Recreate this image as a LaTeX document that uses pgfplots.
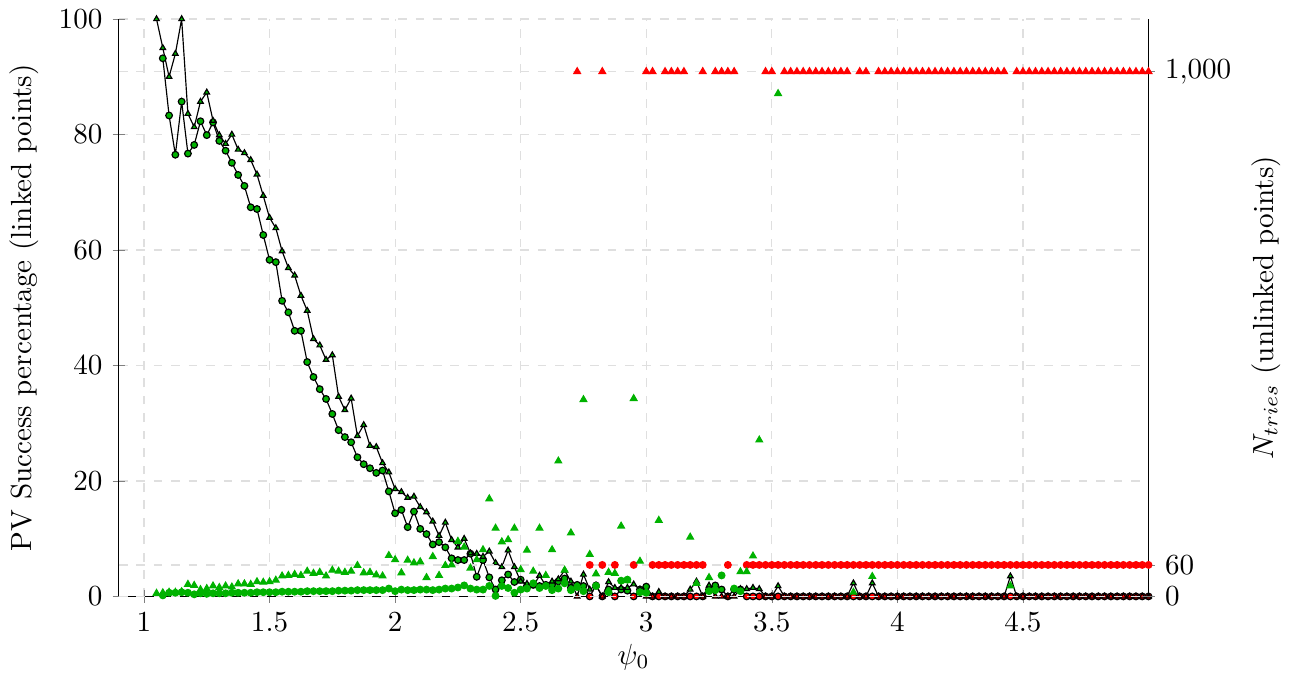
\documentclass[border=0pt]{standalone}
\usepackage{pgfplots}
\usepackage{pgfplotstable}
\pgfplotsset{compat=1.18}
\definecolor{mygreen}{RGB}{0,178,0}

\pgfplotstableread{
x T tc C cc NT ntc NC ncc
1.050 100 g nan g 6 g nan g
1.075 95 g 93.2 g 7 g 2 g
1.100 90 g 83.3 g 8 g 7 g
1.125 94 g 76.5 g 8 g 7 g
1.150 100 g 85.7 g 9 g 8 g
1.175 83.6 g 76.7 g 23 g 7 g
1.200 81.3 g 78.2 g 21 g 4 g
1.225 85.7 g 82.3 g 13 g 6 g
1.250 87.3 g 79.9 g 15 g 5 g
1.275 82.4 g 82.1 g 20 g 6 g
1.300 79.9 g 78.9 g 17 g 6 g
1.325 78.4 g 77.2 g 20 g 6 g
1.350 80.0 g 75.1 g 18 g 7 g
1.375 77.4 g 73.0 g 24 g 7 g
1.400 76.8 g 71.1 g 24 g 7 g
1.425 75.6 g 67.4 g 23 g 7 g
1.450 73.1 g 67.1 g 28 g 8 g
1.475 69.4 g 62.6 g 27 g 8 g
1.500 65.6 g 58.3 g 28 g 8 g
1.525 63.8 g 57.9 g 31 g 8 g
1.550 59.8 g 51.2 g 39 g 9 g
1.575 56.9 g 49.2 g 40 g 9 g
1.600 55.6 g 46.0 g 42 g 9 g
1.625 52.1 g 46.0 g 40 g 9 g
1.650 49.5 g 40.6 g 48 g 10 g
1.675 44.6 g 38.0 g 44 g 10 g
1.700 43.5 g 35.9 g 46 g 10 g
1.725 41.0 g 34.2 g 39 g 10 g
1.750 41.8 g 31.6 g 50 g 10 g
1.775 34.6 g 28.8 g 48 g 11 g
1.800 32.3 g 27.6 g 46 g 11 g
1.825 34.3 g 26.7 g 48 g 11 g
1.850 27.8 g 24.1 g 59 g 12 g
1.875 29.7 g 22.9 g 45 g 12 g
1.900 26.1 g 22.2 g 46 g 12 g
1.925 25.9 g 21.4 g 41 g 12 g
1.950 23.1 g 21.8 g 39 g 12 g
1.975 21.5 g 18.2 g 78 g 15 g
2.000 18.6 g 14.4 g 70 g 10 g
2.025 18.1 g 15.0 g 45 g 13 g
2.050 17.1 g 12.0 g 69 g 12 g
2.075 17.3 g 14.7 g 64 g 12 g
2.100 15.5 g 11.7 g 66 g 13 g
2.125 14.6 g 10.8 g 36 g 13 g
2.150 13.0 g 9.0 g 76 g 12 g
2.175 10.5 g 9.4 g 40 g 13 g
2.200 12.8 g 8.5 g 59 g 15 g
2.225 9.8 g 6.6 g 60 g 15 g
2.250 8.5 g 6.3 g 105 g 17 g
2.275 10.0 g 6.3 g 94 g 21 g
2.300 7.5 g 7.4 g 54 g 15 g
2.325 7.4 g 3.4 g 70 g 13 g
2.350 6.9 g 6.3 g 89 g 13 g
2.375 7.8 g 3.3 g 186 g 20 g
2.400 5.8 g 1.2 g 130 g 1 g
2.425 5.1 g 2.8 g 104 g 20 g
2.450 8.0 g 3.8 g 108 g 16 g
2.475 5.1 g 2.5 g 130 g 7 g
2.500 2.6 g 2.9 g 51 g 13 g
2.525 2.2 g 1.8 g 88 g 15 g
2.550 1.8 g 2.0 g 48 g 25 g
2.575 3.6 g 1.8 g 130 g 16 g
2.600 1.9 g 2.0 g 40 g 20 g
2.625 2.6 g 2.0 g 89 g 12 g
2.650 3.0 g 2.6 g 258 g 15 g
2.675 4.5 g 3.1 g 50 g 25 g
2.700 2.6 g 1.5 g 121 g 12 g
2.725 0 r 2.0 g 1000 r 18 g
2.750 3.8 g 1.8 g 375 g 10 g
2.775 1.2 g 0 r 80 g 60 r
2.800 1.9 g 1.9 g 43 g 20 g
2.825 0 r 0 r 1000 r 60 r
2.850 2.5 g 1.2 g 46 g 8 g
2.875 1.5 g 0 r 44 g 60 r
2.900 1.5 g 1.2 g 134 g 30 g
2.925 1.5 g 1.0 g 30 g 32 g
2.950 2.1 g 0 r 377 g 60 r
2.975 1.2 g 1.2 g 67 g 8 g
3.000 0 r 1.7 g 1000 r 7 g
3.025 0 r 0 r 1000 r 60 r
3.050 0.8 g 0 r 145 g 60 r
3.075 0 r 0 r 1000 r 60 r
3.100 0 r 0 r 1000 r 60 r
3.125 0 r 0 r 1000 r 60 r
3.150 0 r 0 r 1000 r 60 r
3.175 1.2 g 0 r 113 g 60 r
3.200 2.6 g 0 r 25 g 60 r
3.225 0 r 0 r 1000 r 60 r
3.250 1.9 g 1.2 g 36 g 10 g
3.275 0 r 1.9 g 1000 r 12 g
3.300 0 r 1.2 g 1000 r 40 g
3.325 0 r 0 r 1000 r 60 r
3.350 0 r 1.2 g 1000 r 15 g
3.375 1.3 g 1.2 g 47 g 10 g
3.400 1.3 g 0 r 47 g 60 r
3.425 1.5 g 0 r 77 g 60 r
3.450 1.3 g 0 r 298 g 60 r
3.475 0 r 0 r 1000 r 60 r
3.500 0 r 0 r 1000 r 60 r
3.525 1.8 g 0 r 958 g 60 r
3.550 0 r 0 r 1000 r 60 r
3.575 0 r 0 r 1000 r 60 r
3.600 0 r 0 r 1000 r 60 r
3.625 0 r 0 r 1000 r 60 r
3.650 0 r 0 r 1000 r 60 r
3.675 0 r 0 r 1000 r 60 r
3.700 0 r 0 r 1000 r 60 r
3.725 0 r 0 r 1000 r 60 r
3.750 0 r 0 r 1000 r 60 r
3.775 0 r 0 r 1000 r 60 r
3.800 0 r 0 r 1000 r 60 r
3.825 2.3 g 0 r 8 g 60 r
3.850 0 r 0 r 1000 r 60 r
3.875 0 r 0 r 1000 r 60 r
3.900 2.3 g 0 r 38 g 60 r
3.925 0 r 0 r 1000 r 60 r
3.950 0 r 0 r 1000 r 60 r
3.975 0 r 0 r 1000 r 60 r
4.000 0 r 0 r 1000 r 60 r
4.025 0 r 0 r 1000 r 60 r
4.050 0 r 0 r 1000 r 60 r
4.075 0 r 0 r 1000 r 60 r
4.100 0 r 0 r 1000 r 60 r
4.125 0 r 0 r 1000 r 60 r
4.150 0 r 0 r 1000 r 60 r
4.175 0 r 0 r 1000 r 60 r
4.200 0 r 0 r 1000 r 60 r
4.225 0 r 0 r 1000 r 60 r
4.250 0 r 0 r 1000 r 60 r
4.275 0 r 0 r 1000 r 60 r
4.300 0 r 0 r 1000 r 60 r
4.325 0 r 0 r 1000 r 60 r
4.350 0 r 0 r 1000 r 60 r
4.375 0 r 0 r 1000 r 60 r
4.400 0 r 0 r 1000 r 60 r
4.425 0 r 0 r 1000 r 60 r
4.450 3.5 g 0 r 20 g 60 r
4.475 0 r 0 r 1000 r 60 r
4.500 0 r 0 r 1000 r 60 r
4.525 0 r 0 r 1000 r 60 r
4.550 0 r 0 r 1000 r 60 r
4.575 0 r 0 r 1000 r 60 r
4.600 0 r 0 r 1000 r 60 r
4.625 0 r 0 r 1000 r 60 r
4.650 0 r 0 r 1000 r 60 r
4.675 0 r 0 r 1000 r 60 r
4.700 0 r 0 r 1000 r 60 r
4.725 0 r 0 r 1000 r 60 r
4.750 0 r 0 r 1000 r 60 r
4.775 0 r 0 r 1000 r 60 r
4.800 0 r 0 r 1000 r 60 r
4.825 0 r 0 r 1000 r 60 r
4.850 0 r 0 r 1000 r 60 r
4.875 0 r 0 r 1000 r 60 r
4.900 0 r 0 r 1000 r 60 r
4.925 0 r 0 r 1000 r 60 r
4.950 0 r 0 r 1000 r 60 r
4.975 0 r 0 r 1000 r 60 r
5.000 0 r 0 r 1000 r 60 r
}\data

\begin{document}
\begin{tikzpicture}
\begin{axis}[
  scale only axis, width=354pt, height=198.5pt,
  xmin=0.9, xmax=5, ymin=0, ymax=100,
  axis y line*=left, axis x line*=bottom,
  x axis line style={-},
  xtick={1,1.5,2,2.5,3,3.5,4,4.5},
  ytick={0,20,40,60,80,100},
  grid=major, grid style={dashed, gray!25},
  tick align=center,
  xlabel={$\psi_0$},
  xlabel style={yshift=2.5pt},
  ylabel={PV Success percentage (linked points)},
  clip=false,
]
\addplot[black, mark=*, mark size=1.15pt, scatter, scatter src=explicit symbolic,
  scatter/classes={g={mark=*, draw=black, fill=mygreen}, r={mark=*, draw=black, fill=red}}]
  table[x=x, y=C, meta=cc] {\data};
\addplot[black, mark=triangle*, mark size=1.1pt, scatter, scatter src=explicit symbolic,
  scatter/classes={g={mark=triangle*, draw=black, fill=mygreen}, r={mark=triangle*, draw=black, fill=red}}]
  table[x=x, y=T, meta=tc] {\data};
\end{axis}
\begin{axis}[
  scale only axis, width=354pt, height=198.5pt,
  xmin=0.9, xmax=5, ymin=0, ymax=1100,
  axis y line*=right, axis x line=none,
  ytick={0,60,1000},
  ymajorgrids, grid style={dashed, gray!25},
  tick align=center,
  ylabel={$N_{tries}$ (unlinked points)},
  clip=false,
]
\addplot[only marks, mark=*, mark size=1.15pt, scatter, scatter src=explicit symbolic,
  scatter/classes={g={mark=*, draw=mygreen, fill=mygreen}, r={mark=*, draw=red, fill=red}}]
  table[x=x, y=NC, meta=ncc] {\data};
\addplot[only marks, mark=triangle*, mark size=1.3pt, scatter, scatter src=explicit symbolic,
  scatter/classes={g={mark=triangle*, draw=mygreen, fill=mygreen}, r={mark=triangle*, draw=red, fill=red}}]
  table[x=x, y=NT, meta=ntc] {\data};
\end{axis}
\end{tikzpicture}
\end{document}
